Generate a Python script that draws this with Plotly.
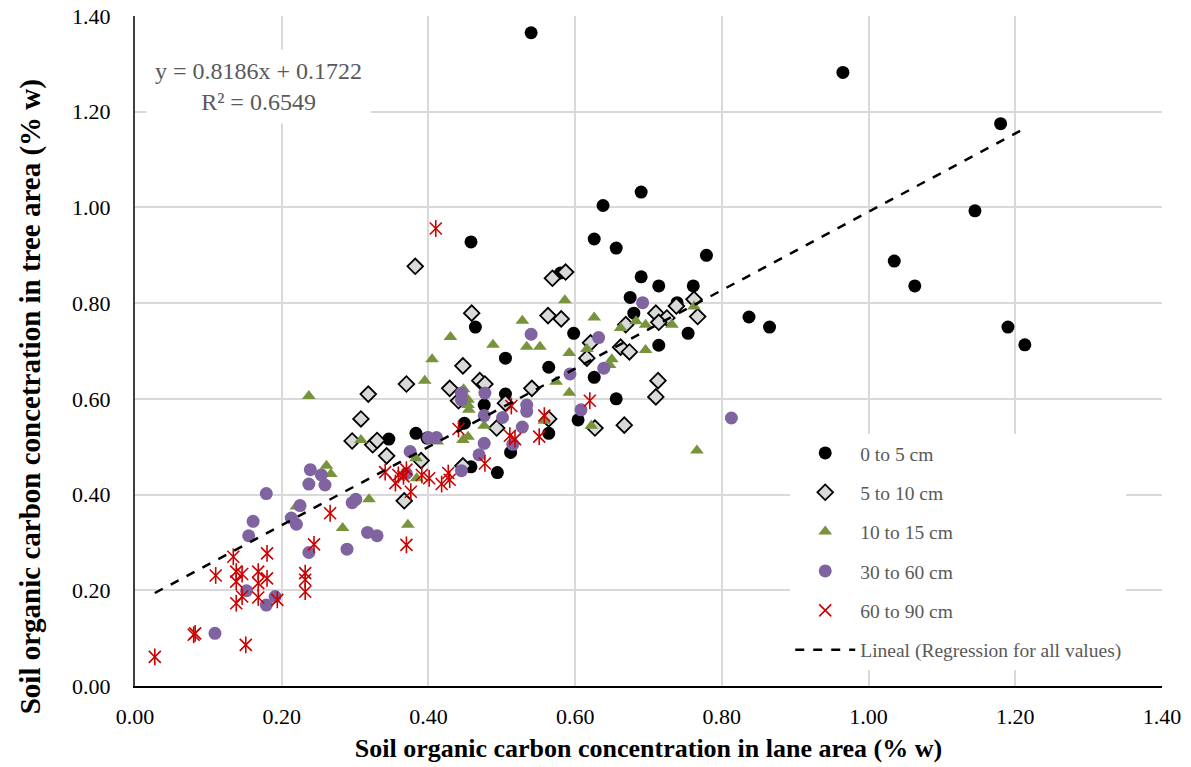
import numpy as np
import plotly.graph_objects as go

# ---- data ----
x_0_5 = [0.54, 0.965, 1.18, 1.145, 1.035, 1.063, 1.19, 1.213, 0.837, 0.865, 0.779, 0.690, 0.638, 0.626,
         0.656, 0.458, 0.580, 0.690, 0.675, 0.680, 0.464, 0.598, 0.714, 0.761, 0.739, 0.754, 0.714, 0.505,
         0.564, 0.626, 0.656, 0.505, 0.476, 0.449, 0.564, 0.512, 0.494, 0.458, 0.398, 0.383, 0.346, 0.604]
y_0_5 = [1.365, 1.282, 1.175, 0.993, 0.888, 0.836, 0.750, 0.713, 0.771, 0.750, 0.900, 1.032, 1.004, 0.934,
         0.915, 0.928, 0.863, 0.855, 0.812, 0.779, 0.750, 0.737, 0.836, 0.836, 0.801, 0.737, 0.712, 0.685,
         0.666, 0.645, 0.600, 0.610, 0.587, 0.549, 0.528, 0.488, 0.446, 0.458, 0.518, 0.528, 0.516, 0.556]

x_5_10 = [0.569, 0.587, 0.382, 0.459, 0.563, 0.581, 0.669, 0.621, 0.738, 0.762, 0.767, 0.710, 0.725, 0.714,
          0.662, 0.674, 0.713, 0.710, 0.667, 0.627, 0.616, 0.447, 0.370, 0.429, 0.470, 0.477, 0.441, 0.541,
          0.505, 0.564, 0.493, 0.447, 0.367, 0.390, 0.343, 0.318, 0.308, 0.296, 0.324, 0.330]
y_5_10 = [0.852, 0.865, 0.877, 0.779, 0.774, 0.767, 0.755, 0.717, 0.794, 0.808, 0.772, 0.779, 0.769, 0.760,
          0.708, 0.698, 0.638, 0.604, 0.545, 0.539, 0.685, 0.669, 0.631, 0.622, 0.638, 0.631, 0.596, 0.622,
          0.591, 0.558, 0.539, 0.460, 0.387, 0.471, 0.481, 0.610, 0.558, 0.512, 0.504, 0.513]

x_10_15 = [0.586, 0.626, 0.528, 0.430, 0.662, 0.683, 0.488, 0.534, 0.552, 0.762, 0.696, 0.732, 0.696, 0.650,
           0.647, 0.766, 0.616, 0.592, 0.405, 0.395, 0.448, 0.454, 0.574, 0.592, 0.455, 0.454, 0.558, 0.476,
           0.447, 0.454, 0.383, 0.412, 0.384, 0.372, 0.622, 0.237, 0.308, 0.261, 0.267, 0.319, 0.283, 0.220]
y_10_15 = [0.806, 0.770, 0.763, 0.729, 0.748, 0.762, 0.713, 0.709, 0.709, 0.793, 0.755, 0.755, 0.702, 0.683,
           0.671, 0.492, 0.704, 0.696, 0.683, 0.638, 0.620, 0.598, 0.636, 0.613, 0.577, 0.587, 0.554, 0.544,
           0.514, 0.521, 0.476, 0.511, 0.434, 0.337, 0.544, 0.606, 0.514, 0.460, 0.443, 0.390, 0.330, 0.375]

x_30_60 = [0.540, 0.632, 0.692, 0.639, 0.593, 0.813, 0.445, 0.445, 0.477, 0.534, 0.534, 0.476, 0.501, 0.528,
           0.515, 0.476, 0.469, 0.445, 0.400, 0.411, 0.375, 0.370, 0.608, 0.239, 0.254, 0.237, 0.259, 0.179,
           0.296, 0.301, 0.225, 0.213, 0.220, 0.161, 0.317, 0.330, 0.155, 0.237, 0.289, 0.152, 0.191, 0.179,
           0.109]
y_30_60 = [0.735, 0.728, 0.801, 0.664, 0.652, 0.560, 0.612, 0.598, 0.612, 0.587, 0.574, 0.565, 0.561, 0.541,
           0.505, 0.507, 0.483, 0.450, 0.519, 0.519, 0.490, 0.444, 0.577, 0.452, 0.441, 0.422, 0.420, 0.402,
           0.383, 0.390, 0.377, 0.351, 0.338, 0.344, 0.321, 0.314, 0.314, 0.279, 0.286, 0.199, 0.187, 0.169,
           0.110]

x_60_90 = [0.410, 0.341, 0.266, 0.244, 0.180, 0.134, 0.110, 0.138, 0.146, 0.168, 0.180, 0.168, 0.138, 0.232,
           0.232, 0.232, 0.146, 0.168, 0.194, 0.138, 0.080, 0.082, 0.151, 0.027, 0.513, 0.558, 0.441, 0.551,
           0.511, 0.518, 0.477, 0.620, 0.359, 0.370, 0.355, 0.366, 0.376, 0.391, 0.401, 0.418, 0.427, 0.429,
           0.370]
y_60_90 = [0.956, 0.447, 0.361, 0.296, 0.277, 0.270, 0.231, 0.239, 0.234, 0.239, 0.225, 0.215, 0.218, 0.236,
           0.222, 0.197, 0.187, 0.185, 0.180, 0.173, 0.107, 0.110, 0.086, 0.061, 0.585, 0.565, 0.537, 0.521,
           0.523, 0.516, 0.465, 0.596, 0.441, 0.452, 0.424, 0.438, 0.406, 0.441, 0.434, 0.422, 0.445, 0.431,
           0.295]

slope = 0.8186
intercept = 0.1722
r2 = 0.6549

tick_vals = [0.0, 0.2, 0.4, 0.6, 0.8, 1.0, 1.2, 1.4]
tick_text = ["0.00", "0.20", "0.40", "0.60", "0.80", "1.00", "1.20", "1.40"]

x_title = "Soil organic carbon concentration in lane area (% w)"
y_title = "Soil organic carbon concetration in tree area (% w)"

SERIF = "Liberation Serif, Times New Roman, serif"
GRAY = "#595959"

fig = go.Figure()

fig.add_trace(go.Scatter(x=x_0_5, y=y_0_5, mode="markers", name="0 to 5 cm", legendgroup="a",
                         marker=dict(symbol="circle", size=13, color="#000000")))
fig.add_trace(go.Scatter(x=x_5_10, y=y_5_10, mode="markers", name="5 to 10 cm", legendgroup="b",
                         marker=dict(symbol="diamond", size=12, color="#d9d9d9",
                                     line=dict(color="#000000", width=1.8))))
fig.add_trace(go.Scatter(x=x_10_15, y=y_10_15, mode="markers", name="10 to 15 cm", legendgroup="c",
                         marker=dict(symbol="triangle-up", size=12, color="#77933c")))
fig.add_trace(go.Scatter(x=x_30_60, y=y_30_60, mode="markers", name="30 to 60 cm", legendgroup="d",
                         marker=dict(symbol="circle", size=13, color="#8064a2")))
fig.add_trace(go.Scatter(x=x_60_90, y=y_60_90, mode="markers", name="60 to 90 cm", legendgroup="e",
                         marker=dict(symbol="x-thin-open", size=12, color="#cc0000",
                                     line=dict(color="#cc0000", width=1.6))))
fig.add_trace(go.Scatter(x=x_60_90, y=y_60_90, mode="markers", name="60 to 90 cm", legendgroup="e",
                         showlegend=False, hoverinfo="skip",
                         marker=dict(symbol="line-ns-open", size=12, color="#cc0000",
                                     line=dict(color="#cc0000", width=1.6))))

all_x = np.array(x_0_5 + x_5_10 + x_10_15 + x_30_60 + x_60_90)
line_x = np.array([all_x.min(), all_x.max()])
line_y = slope * line_x + intercept
fig.add_trace(go.Scatter(x=line_x, y=line_y, mode="lines", name="Lineal (Regression for all values)",
                         legendgroup="f", line=dict(color="#000000", width=2.5, dash="dash")))

fig.add_annotation(xref="paper", yref="paper", x=0.1198, y=0.8955, xanchor="center", yanchor="middle",
                   text=f"y = {slope:.4f}x + {intercept:.4f}<br>R² = {r2:.4f}", showarrow=False,
                   align="center", bgcolor="#ffffff", borderpad=8,
                   font=dict(family=SERIF, size=24, color=GRAY))

# y-axis title (placed as rotated text)
fig.add_annotation(xref="paper", yref="paper", x=-0.1022, y=0.431, xanchor="center", yanchor="middle",
                   text=f"<b>{y_title}</b>", textangle=-90, showarrow=False,
                   font=dict(family=SERIF, size=29, color="#000000"))

axis_common = dict(range=[0, 1.4], tickvals=tick_vals, ticktext=tick_text, showgrid=True,
                   gridcolor="#d9d9d9", gridwidth=1.5, zeroline=False, showline=True,
                   tickfont=dict(family=SERIF, size=22, color="#000000"), ticks="",
                   ticklabeloverflow="allow")

fig.update_xaxes(**axis_common, linecolor="#000000", linewidth=2, ticklabelstandoff=10,
                 title=dict(text=f"<b>{x_title}</b>",
                            font=dict(family=SERIF, size=26, color="#000000"), standoff=10))
fig.update_yaxes(**axis_common, linecolor="#404040", linewidth=2, ticklabelstandoff=18)

fig.update_layout(
    width=1191, height=767,
    margin=dict(l=135, r=29, t=16, b=81, autoexpand=False),
    plot_bgcolor="#ffffff", paper_bgcolor="#ffffff",
    showlegend=True,
    legend=dict(x=0.638, y=0.3765, xanchor="left", yanchor="top", bgcolor="#ffffff",
                font=dict(family=SERIF, size=19.5, color=GRAY), tracegroupgap=11,
                itemwidth=60),
)

fig.write_html("out.html", config={"displayModeBar": False},
               post_script="document.body.style.margin='0px';document.body.style.overflow='hidden';")
